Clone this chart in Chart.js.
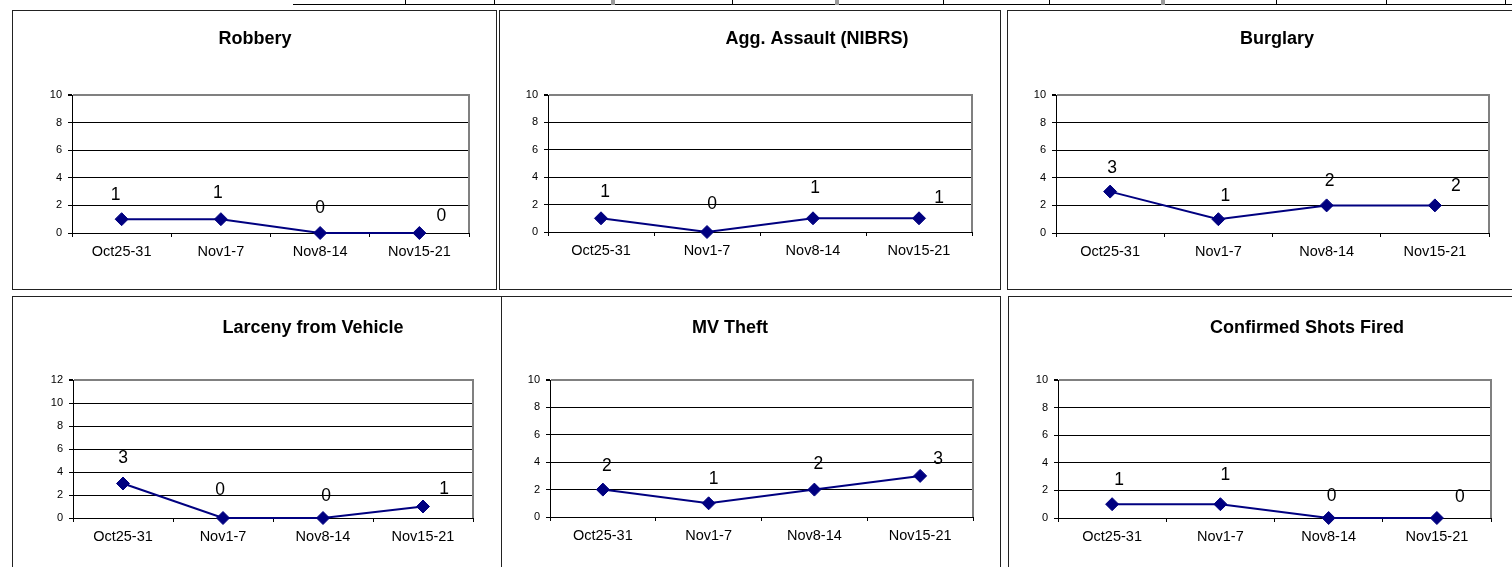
<!DOCTYPE html>
<html>
<head>
<meta charset="utf-8">
<style>
  html, body { margin: 0; padding: 0; background: #fff; }
  body { width: 1512px; height: 567px; overflow: hidden; position: relative; }
  .panel { position: absolute; box-sizing: border-box; border: 1px solid #222; background: #fff; }
  .rule { position: absolute; background: #000; }
  canvas { position: absolute; }
</style>
</head>
<body>
<script src="https://cdn.jsdelivr.net/npm/chart.js@4.4.0/dist/chart.umd.min.js"></script>
<script>
// weekly counts
const weeks = ['Oct25-31', 'Nov1-7', 'Nov8-14', 'Nov15-21'];
const robbery = [1, 1, 0, 0];
const aggAssault = [1, 0, 1, 1];
const burglary = [3, 1, 2, 2];
const larcenyFromVehicle = [3, 0, 0, 1];
const mvTheft = [2, 1, 2, 3];
const shotsFired = [1, 1, 0, 0];

const FONT = '"Liberation Sans", Arial, Helvetica, sans-serif';
const NAVY = '#000080';
const Y_AXIS_W = 40;
const X_AXIS_H = 30;

// panel boxes, plot areas, title spots and value label nudges (page px)
const panels = [
  { title: 'Robbery', values: robbery, max: 10,
    x: 12, y: 10, w: 485, h: 280, plot: { l: 72, r: 469, t: 95, b: 233 },
    titleAt: [255, 44], nudge: [[-6, -24], [-3, -26], [0, -25], [22, -17]] },
  { title: 'Agg. Assault (NIBRS)', values: aggAssault, max: 10,
    x: 499, y: 10, w: 502, h: 280, plot: { l: 548, r: 972, t: 95, b: 232 },
    titleAt: [817, 44], nudge: [[4, -26], [5, -28], [2, -30], [20, -20]] },
  { title: 'Burglary', values: burglary, max: 10,
    x: 1007, y: 10, w: 520, h: 280, plot: { l: 1056, r: 1489, t: 95, b: 233 },
    titleAt: [1277, 44], nudge: [[2, -23], [7, -23], [3, -24], [21, -19]] },
  { title: 'Larceny from Vehicle', values: larcenyFromVehicle, max: 12,
    x: 12, y: 296, w: 490, h: 290, plot: { l: 73, r: 473, t: 380, b: 518 },
    titleAt: [313, 333], nudge: [[0, -25], [-3, -28], [3, -22], [21, -17]] },
  { title: 'MV Theft', values: mvTheft, max: 10,
    x: 501, y: 296, w: 500, h: 290, plot: { l: 550, r: 973, t: 380, b: 517 },
    titleAt: [730, 333], nudge: [[4, -23], [5, -24], [4, -25], [18, -17]] },
  { title: 'Confirmed Shots Fired', values: shotsFired, max: 10,
    x: 1008, y: 296, w: 520, h: 290, plot: { l: 1058, r: 1491, t: 380, b: 518 },
    titleAt: [1307, 333], nudge: [[7, -24], [5, -29], [3, -22], [23, -21]] },
];

// bits of the table border peeking in above the charts
function rule(x, y, w, h, color) {
  const d = document.createElement('div');
  d.className = 'rule';
  Object.assign(d.style, { left: x + 'px', top: y + 'px', width: w + 'px', height: h + 'px' });
  if (color) d.style.background = color;
  document.body.appendChild(d);
}
rule(293, 4, 1219, 1);
[405, 494, 732, 943, 1049, 1276, 1386, 1505].forEach(x => rule(x, 0, 1, 5));
[611, 835, 1161].forEach(x => rule(x, 0, 4, 5, '#999'));

function makeChart(p) {
  const box = document.createElement('div');
  box.className = 'panel';
  Object.assign(box.style, { left: p.x + 'px', top: p.y + 'px', width: p.w + 'px', height: p.h + 'px' });
  document.body.appendChild(box);

  const cv = document.createElement('canvas');
  cv.width = p.w;
  cv.height = p.h;
  Object.assign(cv.style, { left: p.x + 'px', top: p.y + 'px', width: p.w + 'px', height: p.h + 'px' });
  document.body.appendChild(cv);

  const panelTitle = {
    id: 'panelTitle',
    afterDraw(chart) {
      const ctx = chart.ctx;
      ctx.save();
      ctx.font = 'bold 18px ' + FONT;
      ctx.fillStyle = '#000';
      ctx.textAlign = 'center';
      ctx.textBaseline = 'alphabetic';
      ctx.fillText(p.title, p.titleAt[0] - p.x, p.titleAt[1] - p.y);
      ctx.restore();
    }
  };

  // gray frame on the right side of the plot area
  const plotFrame = {
    id: 'plotFrame',
    beforeDatasetsDraw(chart) {
      const { ctx, chartArea: a } = chart;
      ctx.save();
      ctx.strokeStyle = '#808080';
      ctx.lineWidth = 2;
      ctx.beginPath();
      ctx.moveTo(a.right, a.top - 1);
      ctx.lineTo(a.right, a.bottom);
      ctx.stroke();
      ctx.restore();
    }
  };

  const valueLabels = {
    id: 'valueLabels',
    afterDatasetsDraw(chart) {
      const ctx = chart.ctx;
      const meta = chart.getDatasetMeta(0);
      ctx.save();
      ctx.font = '17.5px ' + FONT;
      ctx.fillStyle = '#000';
      ctx.textAlign = 'center';
      ctx.textBaseline = 'middle';
      meta.data.forEach((pt, i) => {
        const [dx, dy] = p.nudge[i];
        ctx.fillText(String(p.values[i]), pt.x + dx, pt.y + dy);
      });
      ctx.restore();
    }
  };

  new Chart(cv, {
    type: 'line',
    data: {
      labels: weeks,
      datasets: [{
        data: p.values,
        borderColor: NAVY,
        backgroundColor: NAVY,
        borderWidth: 2,
        tension: 0,
        pointStyle: 'rectRot',
        pointRadius: 6.5,
        pointBackgroundColor: NAVY,
        pointBorderColor: NAVY,
        pointBorderWidth: 1,
        clip: false
      }]
    },
    options: {
      responsive: false,
      maintainAspectRatio: false,
      devicePixelRatio: 1,
      animation: false,
      events: [],
      layout: {
        padding: {
          left: p.plot.l - p.x - Y_AXIS_W,
          top: p.plot.t - p.y,
          right: p.x + p.w - p.plot.r,
          bottom: p.y + p.h - p.plot.b - X_AXIS_H
        }
      },
      plugins: {
        legend: { display: false },
        title: { display: false },
        tooltip: { enabled: false }
      },
      scales: {
        x: {
          type: 'category',
          offset: true,
          afterFit: s => { s.height = X_AXIS_H; },
          grid: {
            offset: true,
            drawOnChartArea: false,
            drawTicks: true,
            tickLength: 4,
            tickColor: '#000'
          },
          border: { display: true, color: '#000', width: 1 },
          ticks: {
            color: '#000',
            font: { family: FONT, size: 14.5, lineHeight: 1.2 },
            padding: 6,
            maxRotation: 0,
            autoSkip: false
          }
        },
        y: {
          min: 0,
          max: p.max,
          afterFit: s => { s.width = Y_AXIS_W; },
          grid: {
            color: c => (c.tick && c.tick.value === p.max) ? '#808080' : '#000',
            lineWidth: c => (c.tick && c.tick.value === p.max) ? 2 : 1,
            drawTicks: true,
            tickLength: 4,
            tickColor: '#000'
          },
          border: { display: true, color: '#000', width: 1 },
          ticks: {
            stepSize: 2,
            color: '#000',
            font: { family: FONT, size: 11 },
            padding: 6
          }
        }
      }
    },
    plugins: [plotFrame, valueLabels, panelTitle]
  });
}

panels.forEach(makeChart);
</script>
</body>
</html>
